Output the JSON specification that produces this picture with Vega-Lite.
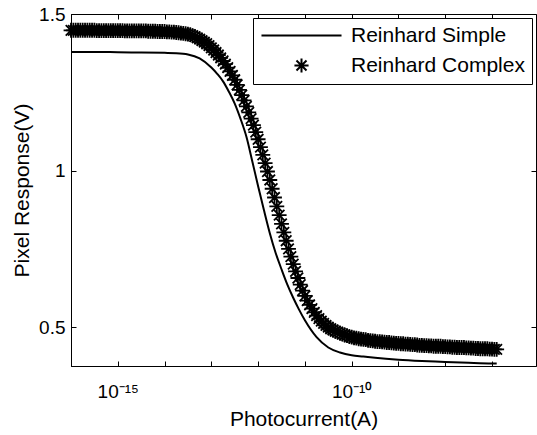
{
  "$schema": "https://vega.github.io/schema/vega-lite/v6.json",
  "width": 465,
  "height": 352,
  "autosize": "none",
  "padding": {"left": 71, "top": 14, "right": 1, "bottom": 69},
  "background": "white",
  "config": {
    "view": {"stroke": "black", "strokeWidth": 1},
    "font": "Liberation Sans",
    "axis": {"grid": false, "domainColor": "black", "tickColor": "black", "labelColor": "black", "titleColor": "black", "labelFont": "Liberation Sans", "titleFont": "Liberation Sans", "labelFontSize": 19, "titleFontSize": 21, "titleFontWeight": "normal", "tickSize": -5, "domainWidth": 1, "tickWidth": 1}
  },
  "datasets": {
    "simple": [
      {"x": 1e-16, "y": 1.379}, {"x": 3.162e-16, "y": 1.379}, {"x": 1e-15, "y": 1.378}, {"x": 3.162e-15, "y": 1.377},
      {"x": 1e-14, "y": 1.376}, {"x": 1.778e-14, "y": 1.375}, {"x": 3.162e-14, "y": 1.371}, {"x": 5.623e-14, "y": 1.358},
      {"x": 1e-13, "y": 1.329}, {"x": 1.334e-13, "y": 1.309}, {"x": 1.778e-13, "y": 1.285}, {"x": 2.371e-13, "y": 1.252},
      {"x": 3.162e-13, "y": 1.214}, {"x": 4.217e-13, "y": 1.165}, {"x": 5.623e-13, "y": 1.108}, {"x": 7.499e-13, "y": 1.030},
      {"x": 1e-12, "y": 0.950}, {"x": 1.334e-12, "y": 0.873}, {"x": 1.778e-12, "y": 0.800}, {"x": 2.371e-12, "y": 0.737},
      {"x": 3.162e-12, "y": 0.685}, {"x": 4.217e-12, "y": 0.636}, {"x": 5.623e-12, "y": 0.594}, {"x": 7.499e-12, "y": 0.556},
      {"x": 1e-11, "y": 0.522}, {"x": 1.778e-11, "y": 0.468}, {"x": 3.162e-11, "y": 0.435}, {"x": 5.623e-11, "y": 0.419},
      {"x": 1e-10, "y": 0.410}, {"x": 1.778e-10, "y": 0.406}, {"x": 3.162e-10, "y": 0.402}, {"x": 1e-9, "y": 0.396},
      {"x": 3.162e-9, "y": 0.392}, {"x": 1e-8, "y": 0.389}, {"x": 3.162e-8, "y": 0.386}, {"x": 1e-7, "y": 0.384},
      {"x": 1.259e-7, "y": 0.384}
    ],
    "complex": [
      {"s": "Reinhard Complex", "x": 1e-16, "y": 1.448}, {"s": "Reinhard Complex", "x": 1.122e-16, "y": 1.448}, {"s": "Reinhard Complex", "x": 1.259e-16, "y": 1.448}, {"s": "Reinhard Complex", "x": 1.413e-16, "y": 1.448}, {"s": "Reinhard Complex", "x": 1.585e-16, "y": 1.448},
      {"s": "Reinhard Complex", "x": 1.778e-16, "y": 1.448}, {"s": "Reinhard Complex", "x": 1.995e-16, "y": 1.448}, {"s": "Reinhard Complex", "x": 2.239e-16, "y": 1.448}, {"s": "Reinhard Complex", "x": 2.512e-16, "y": 1.448}, {"s": "Reinhard Complex", "x": 2.818e-16, "y": 1.448},
      {"s": "Reinhard Complex", "x": 3.162e-16, "y": 1.448}, {"s": "Reinhard Complex", "x": 3.548e-16, "y": 1.447}, {"s": "Reinhard Complex", "x": 3.981e-16, "y": 1.447}, {"s": "Reinhard Complex", "x": 4.467e-16, "y": 1.447}, {"s": "Reinhard Complex", "x": 5.012e-16, "y": 1.447},
      {"s": "Reinhard Complex", "x": 5.623e-16, "y": 1.447}, {"s": "Reinhard Complex", "x": 6.31e-16, "y": 1.447}, {"s": "Reinhard Complex", "x": 7.079e-16, "y": 1.447}, {"s": "Reinhard Complex", "x": 7.943e-16, "y": 1.447}, {"s": "Reinhard Complex", "x": 8.913e-16, "y": 1.447},
      {"s": "Reinhard Complex", "x": 1e-15, "y": 1.447}, {"s": "Reinhard Complex", "x": 1.122e-15, "y": 1.447}, {"s": "Reinhard Complex", "x": 1.259e-15, "y": 1.447}, {"s": "Reinhard Complex", "x": 1.413e-15, "y": 1.446}, {"s": "Reinhard Complex", "x": 1.585e-15, "y": 1.446},
      {"s": "Reinhard Complex", "x": 1.778e-15, "y": 1.446}, {"s": "Reinhard Complex", "x": 1.995e-15, "y": 1.446}, {"s": "Reinhard Complex", "x": 2.239e-15, "y": 1.446}, {"s": "Reinhard Complex", "x": 2.512e-15, "y": 1.446}, {"s": "Reinhard Complex", "x": 2.818e-15, "y": 1.446},
      {"s": "Reinhard Complex", "x": 3.162e-15, "y": 1.446}, {"s": "Reinhard Complex", "x": 3.548e-15, "y": 1.446}, {"s": "Reinhard Complex", "x": 3.981e-15, "y": 1.446}, {"s": "Reinhard Complex", "x": 4.467e-15, "y": 1.445}, {"s": "Reinhard Complex", "x": 5.012e-15, "y": 1.445},
      {"s": "Reinhard Complex", "x": 5.623e-15, "y": 1.445}, {"s": "Reinhard Complex", "x": 6.31e-15, "y": 1.445}, {"s": "Reinhard Complex", "x": 7.079e-15, "y": 1.444}, {"s": "Reinhard Complex", "x": 7.943e-15, "y": 1.444}, {"s": "Reinhard Complex", "x": 8.913e-15, "y": 1.444},
      {"s": "Reinhard Complex", "x": 1e-14, "y": 1.444}, {"s": "Reinhard Complex", "x": 1.122e-14, "y": 1.443}, {"s": "Reinhard Complex", "x": 1.259e-14, "y": 1.443}, {"s": "Reinhard Complex", "x": 1.413e-14, "y": 1.442}, {"s": "Reinhard Complex", "x": 1.585e-14, "y": 1.442},
      {"s": "Reinhard Complex", "x": 1.778e-14, "y": 1.441}, {"s": "Reinhard Complex", "x": 1.995e-14, "y": 1.440}, {"s": "Reinhard Complex", "x": 2.239e-14, "y": 1.439}, {"s": "Reinhard Complex", "x": 2.512e-14, "y": 1.438}, {"s": "Reinhard Complex", "x": 2.818e-14, "y": 1.437},
      {"s": "Reinhard Complex", "x": 3.162e-14, "y": 1.436}, {"s": "Reinhard Complex", "x": 3.548e-14, "y": 1.434}, {"s": "Reinhard Complex", "x": 3.981e-14, "y": 1.431}, {"s": "Reinhard Complex", "x": 4.467e-14, "y": 1.428}, {"s": "Reinhard Complex", "x": 5.012e-14, "y": 1.424},
      {"s": "Reinhard Complex", "x": 5.623e-14, "y": 1.420}, {"s": "Reinhard Complex", "x": 6.31e-14, "y": 1.415}, {"s": "Reinhard Complex", "x": 7.079e-14, "y": 1.410}, {"s": "Reinhard Complex", "x": 7.943e-14, "y": 1.405}, {"s": "Reinhard Complex", "x": 8.913e-14, "y": 1.399},
      {"s": "Reinhard Complex", "x": 1e-13, "y": 1.392}, {"s": "Reinhard Complex", "x": 1.122e-13, "y": 1.385}, {"s": "Reinhard Complex", "x": 1.259e-13, "y": 1.377}, {"s": "Reinhard Complex", "x": 1.413e-13, "y": 1.369}, {"s": "Reinhard Complex", "x": 1.585e-13, "y": 1.360},
      {"s": "Reinhard Complex", "x": 1.778e-13, "y": 1.350}, {"s": "Reinhard Complex", "x": 1.995e-13, "y": 1.340}, {"s": "Reinhard Complex", "x": 2.239e-13, "y": 1.329}, {"s": "Reinhard Complex", "x": 2.512e-13, "y": 1.317}, {"s": "Reinhard Complex", "x": 2.818e-13, "y": 1.304},
      {"s": "Reinhard Complex", "x": 3.162e-13, "y": 1.290}, {"s": "Reinhard Complex", "x": 3.548e-13, "y": 1.274}, {"s": "Reinhard Complex", "x": 3.981e-13, "y": 1.258}, {"s": "Reinhard Complex", "x": 4.467e-13, "y": 1.241}, {"s": "Reinhard Complex", "x": 5.012e-13, "y": 1.224},
      {"s": "Reinhard Complex", "x": 5.623e-13, "y": 1.205}, {"s": "Reinhard Complex", "x": 6.31e-13, "y": 1.186}, {"s": "Reinhard Complex", "x": 7.079e-13, "y": 1.166}, {"s": "Reinhard Complex", "x": 7.943e-13, "y": 1.145}, {"s": "Reinhard Complex", "x": 8.913e-13, "y": 1.123},
      {"s": "Reinhard Complex", "x": 1e-12, "y": 1.100}, {"s": "Reinhard Complex", "x": 1.122e-12, "y": 1.075}, {"s": "Reinhard Complex", "x": 1.259e-12, "y": 1.050}, {"s": "Reinhard Complex", "x": 1.413e-12, "y": 1.024}, {"s": "Reinhard Complex", "x": 1.585e-12, "y": 0.997},
      {"s": "Reinhard Complex", "x": 1.778e-12, "y": 0.970}, {"s": "Reinhard Complex", "x": 1.995e-12, "y": 0.942}, {"s": "Reinhard Complex", "x": 2.239e-12, "y": 0.914}, {"s": "Reinhard Complex", "x": 2.512e-12, "y": 0.886}, {"s": "Reinhard Complex", "x": 2.818e-12, "y": 0.858},
      {"s": "Reinhard Complex", "x": 3.162e-12, "y": 0.830}, {"s": "Reinhard Complex", "x": 3.548e-12, "y": 0.803}, {"s": "Reinhard Complex", "x": 3.981e-12, "y": 0.776}, {"s": "Reinhard Complex", "x": 4.467e-12, "y": 0.750}, {"s": "Reinhard Complex", "x": 5.012e-12, "y": 0.725},
      {"s": "Reinhard Complex", "x": 5.623e-12, "y": 0.701}, {"s": "Reinhard Complex", "x": 6.31e-12, "y": 0.678}, {"s": "Reinhard Complex", "x": 7.079e-12, "y": 0.657}, {"s": "Reinhard Complex", "x": 7.943e-12, "y": 0.636}, {"s": "Reinhard Complex", "x": 8.913e-12, "y": 0.617},
      {"s": "Reinhard Complex", "x": 1e-11, "y": 0.600}, {"s": "Reinhard Complex", "x": 1.122e-11, "y": 0.585}, {"s": "Reinhard Complex", "x": 1.259e-11, "y": 0.571}, {"s": "Reinhard Complex", "x": 1.413e-11, "y": 0.559}, {"s": "Reinhard Complex", "x": 1.585e-11, "y": 0.547},
      {"s": "Reinhard Complex", "x": 1.778e-11, "y": 0.537}, {"s": "Reinhard Complex", "x": 1.995e-11, "y": 0.527}, {"s": "Reinhard Complex", "x": 2.239e-11, "y": 0.519}, {"s": "Reinhard Complex", "x": 2.512e-11, "y": 0.512}, {"s": "Reinhard Complex", "x": 2.818e-11, "y": 0.506},
      {"s": "Reinhard Complex", "x": 3.162e-11, "y": 0.500}, {"s": "Reinhard Complex", "x": 3.548e-11, "y": 0.495}, {"s": "Reinhard Complex", "x": 3.981e-11, "y": 0.491}, {"s": "Reinhard Complex", "x": 4.467e-11, "y": 0.487}, {"s": "Reinhard Complex", "x": 5.012e-11, "y": 0.484},
      {"s": "Reinhard Complex", "x": 5.623e-11, "y": 0.481}, {"s": "Reinhard Complex", "x": 6.31e-11, "y": 0.478}, {"s": "Reinhard Complex", "x": 7.079e-11, "y": 0.475}, {"s": "Reinhard Complex", "x": 7.943e-11, "y": 0.473}, {"s": "Reinhard Complex", "x": 8.913e-11, "y": 0.470},
      {"s": "Reinhard Complex", "x": 1e-10, "y": 0.468}, {"s": "Reinhard Complex", "x": 1.122e-10, "y": 0.466}, {"s": "Reinhard Complex", "x": 1.259e-10, "y": 0.465}, {"s": "Reinhard Complex", "x": 1.413e-10, "y": 0.463}, {"s": "Reinhard Complex", "x": 1.585e-10, "y": 0.462},
      {"s": "Reinhard Complex", "x": 1.778e-10, "y": 0.461}, {"s": "Reinhard Complex", "x": 1.995e-10, "y": 0.460}, {"s": "Reinhard Complex", "x": 2.239e-10, "y": 0.458}, {"s": "Reinhard Complex", "x": 2.512e-10, "y": 0.457}, {"s": "Reinhard Complex", "x": 2.818e-10, "y": 0.456},
      {"s": "Reinhard Complex", "x": 3.162e-10, "y": 0.455}, {"s": "Reinhard Complex", "x": 3.548e-10, "y": 0.454}, {"s": "Reinhard Complex", "x": 3.981e-10, "y": 0.454}, {"s": "Reinhard Complex", "x": 4.467e-10, "y": 0.453}, {"s": "Reinhard Complex", "x": 5.012e-10, "y": 0.452},
      {"s": "Reinhard Complex", "x": 5.623e-10, "y": 0.451}, {"s": "Reinhard Complex", "x": 6.31e-10, "y": 0.451}, {"s": "Reinhard Complex", "x": 7.079e-10, "y": 0.450}, {"s": "Reinhard Complex", "x": 7.943e-10, "y": 0.449}, {"s": "Reinhard Complex", "x": 8.913e-10, "y": 0.448},
      {"s": "Reinhard Complex", "x": 1e-9, "y": 0.448}, {"s": "Reinhard Complex", "x": 1.122e-9, "y": 0.447}, {"s": "Reinhard Complex", "x": 1.259e-9, "y": 0.447}, {"s": "Reinhard Complex", "x": 1.413e-9, "y": 0.446}, {"s": "Reinhard Complex", "x": 1.585e-9, "y": 0.446},
      {"s": "Reinhard Complex", "x": 1.778e-9, "y": 0.445}, {"s": "Reinhard Complex", "x": 1.995e-9, "y": 0.444}, {"s": "Reinhard Complex", "x": 2.239e-9, "y": 0.444}, {"s": "Reinhard Complex", "x": 2.512e-9, "y": 0.443}, {"s": "Reinhard Complex", "x": 2.818e-9, "y": 0.442},
      {"s": "Reinhard Complex", "x": 3.162e-9, "y": 0.442}, {"s": "Reinhard Complex", "x": 3.548e-9, "y": 0.441}, {"s": "Reinhard Complex", "x": 3.981e-9, "y": 0.441}, {"s": "Reinhard Complex", "x": 4.467e-9, "y": 0.440}, {"s": "Reinhard Complex", "x": 5.012e-9, "y": 0.440},
      {"s": "Reinhard Complex", "x": 5.623e-9, "y": 0.439}, {"s": "Reinhard Complex", "x": 6.31e-9, "y": 0.439}, {"s": "Reinhard Complex", "x": 7.079e-9, "y": 0.439}, {"s": "Reinhard Complex", "x": 7.943e-9, "y": 0.439}, {"s": "Reinhard Complex", "x": 8.913e-9, "y": 0.438},
      {"s": "Reinhard Complex", "x": 1e-8, "y": 0.438}, {"s": "Reinhard Complex", "x": 1.122e-8, "y": 0.437}, {"s": "Reinhard Complex", "x": 1.259e-8, "y": 0.437}, {"s": "Reinhard Complex", "x": 1.413e-8, "y": 0.436}, {"s": "Reinhard Complex", "x": 1.585e-8, "y": 0.436},
      {"s": "Reinhard Complex", "x": 1.778e-8, "y": 0.435}, {"s": "Reinhard Complex", "x": 1.995e-8, "y": 0.435}, {"s": "Reinhard Complex", "x": 2.239e-8, "y": 0.435}, {"s": "Reinhard Complex", "x": 2.512e-8, "y": 0.435}, {"s": "Reinhard Complex", "x": 2.818e-8, "y": 0.434},
      {"s": "Reinhard Complex", "x": 3.162e-8, "y": 0.434}, {"s": "Reinhard Complex", "x": 3.548e-8, "y": 0.433}, {"s": "Reinhard Complex", "x": 3.981e-8, "y": 0.433}, {"s": "Reinhard Complex", "x": 4.467e-8, "y": 0.432}, {"s": "Reinhard Complex", "x": 5.012e-8, "y": 0.432},
      {"s": "Reinhard Complex", "x": 5.623e-8, "y": 0.431}, {"s": "Reinhard Complex", "x": 6.31e-8, "y": 0.431}, {"s": "Reinhard Complex", "x": 7.079e-8, "y": 0.431}, {"s": "Reinhard Complex", "x": 7.943e-8, "y": 0.431}, {"s": "Reinhard Complex", "x": 8.913e-8, "y": 0.430},
      {"s": "Reinhard Complex", "x": 1e-7, "y": 0.430}, {"s": "Reinhard Complex", "x": 1.122e-7, "y": 0.429}, {"s": "Reinhard Complex", "x": 1.259e-7, "y": 0.429}
    ]
  },
  "layer": [
    {
      "data": {"name": "simple"},
      "mark": {"type": "line", "color": "black", "strokeWidth": 2, "interpolate": "monotone"},
      "encoding": {
        "x": {
          "field": "x", "type": "quantitative",
          "scale": {"type": "log", "domain": [1e-16, 8.71e-7], "nice": false},
          "axis": {"orient": "bottom", "values": [1e-16, 1e-15, 1e-14, 1e-13, 1e-12, 1e-11, 1e-10, 1e-9, 1e-8, 1e-7],
            "labelExpr": "datum.value == 1e-15 ? '10⁻¹⁵' : (datum.value == 1e-10 ? '10⁻¹⁰' : '')",
            "labelPadding": 21, "labelFlush": false, "title": "Photocurrent(A)", "titleBaseline": "alphabetic", "titleY": 59}
        },
        "y": {
          "field": "y", "type": "quantitative",
          "scale": {"domain": [0.376, 1.5], "nice": false, "zero": false},
          "axis": {"orient": "left", "values": [0.5, 1, 1.5], "format": "~g", "labelPadding": 11, "labelFlush": false,
            "title": "Pixel Response(V)", "titleBaseline": "alphabetic", "titleX": -43}
        }
      }
    },
    {
      "data": {"name": "complex"},
      "mark": {"type": "point", "filled": false, "stroke": "black", "strokeWidth": 1.8, "size": 220, "opacity": 1},
      "encoding": {
        "x": {
          "field": "x", "type": "quantitative",
          "scale": {"type": "log", "domain": [1e-16, 8.71e-7], "nice": false},
          "axis": {"orient": "top", "values": [1e-16, 1e-15, 1e-14, 1e-13, 1e-12, 1e-11, 1e-10, 1e-9, 1e-8, 1e-7], "labels": false, "title": null, "domain": false}
        },
        "y": {
          "field": "y", "type": "quantitative",
          "scale": {"domain": [0.376, 1.5], "nice": false, "zero": false},
          "axis": {"orient": "right", "values": [0.5, 1, 1.5], "labels": false, "title": null, "domain": false}
        },
        "shape": {
          "field": "s", "type": "nominal",
          "scale": {"domain": ["Reinhard Simple", "Reinhard Complex"], "range": ["M-5.66,0L5.66,0", "M0,-1L0,1M-1,0L1,0M-0.71,-0.71L0.71,0.71M-0.71,0.71L0.71,-0.71"]},
          "legend": {"orient": "none", "legendX": 182, "legendY": 4, "title": null, "strokeColor": "black", "fillColor": "white", "padding": 7, "cornerRadius": 0,
            "symbolSize": 200, "symbolStrokeWidth": 2, "symbolStrokeColor": "black", "symbolFillColor": "transparent", "symbolOffset": 31, "labelOffset": 39, "labelLimit": 400,
            "labelFontSize": 21, "labelFont": "Liberation Sans", "labelColor": "black", "rowPadding": 8}
        }
      }
    }
  ],
  "resolve": {"axis": {"x": "independent", "y": "independent"}}
}
